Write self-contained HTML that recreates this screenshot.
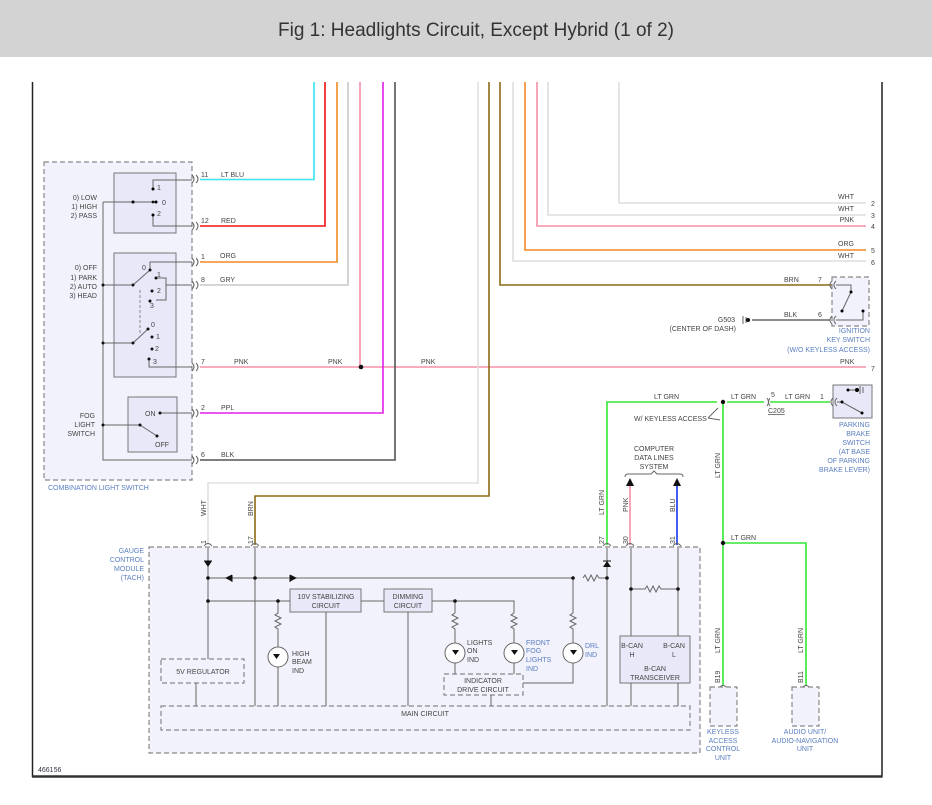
<!DOCTYPE html>
<html><head><meta charset="utf-8"><style>
html,body{margin:0;padding:0;background:#fff;}
svg{display:block;}
text{font-family:"Liberation Sans",sans-serif;}
.t{font-size:7px;fill:#444;}
.b{font-size:7px;fill:#5a7ec0;}
.w{fill:none;stroke-width:1.6;}
.k{fill:none;stroke:#666;stroke-width:1;}
.d{fill:#f2f2fc;stroke:#888;stroke-width:1.2;stroke-dasharray:5,3;}
.s{fill:#e8e8f8;stroke:#777;stroke-width:1;}
</style></head><body>
<svg width="932" height="805" viewBox="0 0 932 805" xmlns="http://www.w3.org/2000/svg">
<rect x="0" y="0" width="932" height="57" fill="#d3d3d3"/>
<text x="476" y="36" text-anchor="middle" style="font-size:19px;fill:#333">Fig 1: Headlights Circuit, Except Hybrid (1 of 2)</text>
<!-- frame -->
<line x1="32.5" y1="82" x2="32.5" y2="777" stroke="#222" stroke-width="1.5"/>
<line x1="882" y1="82" x2="882" y2="777" stroke="#222" stroke-width="1.5"/>
<line x1="32" y1="776.5" x2="882.5" y2="776.5" stroke="#333" stroke-width="2.5"/>
<text x="38" y="772" style="font-size:7px;fill:#334">466156</text>

<!-- combination light switch -->
<rect x="44" y="162" width="148" height="318" class="d"/>
<text x="48" y="490" class="b">COMBINATION LIGHT SWITCH</text>
<rect x="114" y="173" width="62" height="60" class="s"/>
<rect x="114" y="253" width="62" height="124" class="s"/>
<rect x="128" y="397" width="49" height="55" class="s"/>
<g class="t" text-anchor="end">
<text x="97" y="200">0) LOW</text><text x="97" y="209">1) HIGH</text><text x="97" y="218">2) PASS</text>
<text x="97" y="270">0) OFF</text><text x="97" y="280">1) PARK</text><text x="97" y="289">2) AUTO</text><text x="97" y="298">3) HEAD</text>
<text x="95" y="418">FOG</text><text x="95" y="427">LIGHT</text><text x="95" y="436">SWITCH</text>
</g>
<!-- bus -->
<path class="k" d="M103 202 V460 H192 M103 202 H153 M103 285 H133 M103 343 H133 M103 425 H140"/>
<!-- switch1 -->
<path class="k" d="M153 202 L156 202 M153 189 V180 H192 M153 215 V226 H192"/>
<circle cx="153" cy="189" r="1.5"/><circle cx="156" cy="202" r="1.5"/><circle cx="153" cy="215" r="1.5"/><circle cx="133" cy="202" r="1.5"/>
<g class="t"><text x="157" y="190">1</text><text x="162" y="205">0</text><text x="157" y="216">2</text></g>
<!-- switch2 -->
<path class="k" d="M133 285 L150 270 M150 270 V262 H192 M156 278 H166 V300 H156 M166 285 H192 M150 301 V303 M133 343 L148 329 M149 359 V367 H192"/>
<path d="M140 290 V335" stroke="#888" stroke-dasharray="3,2" fill="none"/>
<g fill="#111"><circle cx="133" cy="285" r="1.5"/><circle cx="150" cy="270" r="1.5"/><circle cx="156" cy="278" r="1.5"/><circle cx="152" cy="291" r="1.5"/><circle cx="150" cy="301" r="1.5"/><circle cx="133" cy="343" r="1.5"/><circle cx="148" cy="329" r="1.5"/><circle cx="152" cy="337" r="1.5"/><circle cx="152" cy="349" r="1.5"/><circle cx="149" cy="359" r="1.5"/><circle cx="103" cy="285" r="1.5"/><circle cx="103" cy="343" r="1.5"/><circle cx="103" cy="425" r="1.5"/><circle cx="133" cy="202" r="1.5"/></g>
<g class="t"><text x="142" y="270">0</text><text x="157" y="277">1</text><text x="157" y="293">2</text><text x="150" y="308">3</text><text x="151" y="327">0</text><text x="156" y="339">1</text><text x="155" y="351">2</text><text x="153" y="364">3</text></g>
<!-- fog switch -->
<path class="k" d="M140 425 L157 436 M160 413 H192"/>
<g fill="#111"><circle cx="140" cy="425" r="1.5"/><circle cx="157" cy="436" r="1.5"/><circle cx="160" cy="413" r="1.5"/><circle cx="153" cy="202" r="1.4"/></g>
<g class="t"><text x="145" y="416">ON</text><text x="155" y="447">OFF</text></g>
<!-- connectors left -->
<g class="k">
<path d="M192 175 q4 4 0 8 M196 175 q4 4 0 8 M192 222 q4 4 0 8 M196 222 q4 4 0 8 M192 258 q4 4 0 8 M196 258 q4 4 0 8 M192 281 q4 4 0 8 M196 281 q4 4 0 8 M192 363 q4 4 0 8 M196 363 q4 4 0 8 M192 409 q4 4 0 8 M196 409 q4 4 0 8 M192 456 q4 4 0 8 M196 456 q4 4 0 8"/>
</g>
<g class="t"><text x="201" y="177">11</text><text x="221" y="177">LT BLU</text><text x="201" y="223">12</text><text x="221" y="223">RED</text>
<text x="201" y="259">1</text><text x="220" y="258">ORG</text><text x="201" y="282">8</text><text x="220" y="282">GRY</text>
<text x="201" y="364">7</text><text x="234" y="364">PNK</text><text x="328" y="364">PNK</text><text x="421" y="364">PNK</text>
<text x="201" y="410">2</text><text x="221" y="410">PPL</text><text x="201" y="457">6</text><text x="221" y="457">BLK</text></g>

<!-- wires -->
<path class="w" stroke="#33e6ee" d="M200 179.5 H314 V82"/>
<path class="w" stroke="#ee1111" d="M200 226 H325 V82"/>
<path class="w" stroke="#f08a22" d="M200 262 H337 V82"/>
<path class="w" stroke="#c8c8c8" d="M200 285 H348 V82"/>
<path class="w" stroke="#f590a8" d="M200 367 H866 M360 367 V82"/>
<path class="w" stroke="#e020e6" d="M200 413 H383 V82"/>
<path class="w" stroke="#555" d="M200 460 H395 V82"/>
<path class="w" stroke="#e0e0e0" d="M208 545 V483 H478 V82"/>
<path class="w" stroke="#8b6a14" d="M255 545 V496 H489 V82"/>
<path class="w" stroke="#8b6a14" d="M500 82 V285 H832"/>
<path class="w" stroke="#dedede" d="M513 82 V261 H866"/>
<path class="w" stroke="#f08a22" d="M525 82 V250 H866"/>
<path class="w" stroke="#f590a8" d="M537 82 V226 H866"/>
<path class="w" stroke="#dedede" d="M548 82 V215 H866"/>
<path class="w" stroke="#dedede" d="M619 82 V203 H866"/>
<circle cx="361" cy="367" r="2.3" fill="#111"/>
<g class="t"><text x="854" y="199" text-anchor="end">WHT</text><text x="854" y="211" text-anchor="end">WHT</text><text x="854" y="222" text-anchor="end">PNK</text><text x="854" y="246" text-anchor="end">ORG</text><text x="854" y="258" text-anchor="end">WHT</text>
<text x="871" y="206">2</text><text x="871" y="218">3</text><text x="871" y="229">4</text><text x="871" y="253">5</text><text x="871" y="265">6</text>
<text x="784" y="282">BRN</text><text x="818" y="282">7</text><text x="784" y="317">BLK</text><text x="818" y="317">6</text>
<text x="840" y="364">PNK</text><text x="871" y="371">7</text></g>

<!-- ignition key switch -->
<rect x="832" y="277" width="37" height="49" class="d"/>
<path class="k" d="M832 281 q-4 4 0 8 M836 281 q-4 4 0 8 M832 316 q-4 4 0 8 M836 316 q-4 4 0 8 M836 285 H851 V292 M842 311 L851 292 M836 320 H863 V311"/>
<circle cx="851" cy="292" r="1.5"/><circle cx="842" cy="311" r="1.5"/><circle cx="863" cy="311" r="1.5"/>
<g class="b" text-anchor="end"><text x="870" y="333">IGNITION</text><text x="870" y="342">KEY SWITCH</text><text x="870" y="352">(W/O KEYLESS ACCESS)</text></g>
<path d="M752 320 H830" stroke="#666" stroke-width="1.6"/>
<path class="k" d="M743 316 V324 M746 317 V323"/><circle cx="748" cy="320" r="2" fill="#111"/>
<g class="t" text-anchor="end"><text x="735" y="322">G503</text><text x="736" y="331">(CENTER OF DASH)</text></g>

<!-- LT GRN network -->
<path class="w" stroke="#33e633" d="M607 545 V402 H717 M727 402 H764 M770 402 H830 M723 402 V685 M723 543 H806 V685"/>
<circle cx="723" cy="402" r="2.2" fill="#111"/><circle cx="723" cy="543" r="2.2" fill="#111"/>
<path class="k" d="M767 398 q3 4 0 8 M770 398 q-3 4 0 8"/>
<g class="t"><text x="654" y="399">LT GRN</text><text x="731" y="399">LT GRN</text><text x="771" y="397">5</text><text x="785" y="399">LT GRN</text><text x="820" y="399">1</text>
<text x="768" y="413" style="text-decoration:underline">C205</text><text x="634" y="421">W/ KEYLESS ACCESS</text><text x="731" y="540">LT GRN</text></g>
<path class="k" d="M708 418 L718 408 M708 418 L720 420"/>
<rect x="833" y="385" width="39" height="33" class="s"/>
<path class="k" d="M833 398 q-4 4 0 8 M837 398 q-4 4 0 8 M837 402 H842 L862 413 M848 390 H856 M860 386 V394 M863 387 V393"/>
<circle cx="842" cy="402" r="1.5"/><circle cx="862" cy="413" r="1.5"/><circle cx="848" cy="390" r="1.5"/><circle cx="857" cy="390" r="2"/>
<g class="b" text-anchor="end"><text x="870" y="427">PARKING</text><text x="870" y="436">BRAKE</text><text x="870" y="445">SWITCH</text><text x="870" y="454">(AT BASE</text><text x="870" y="463">OF PARKING</text><text x="870" y="472">BRAKE LEVER)</text></g>

<!-- data lines -->
<g class="t" text-anchor="middle"><text x="654" y="451">COMPUTER</text><text x="654" y="460">DATA LINES</text><text x="654" y="469">SYSTEM</text></g>
<path class="k" d="M625 477 q0-3 3-3 H651 l3-3 l3 3 H680 q3 0 3 3"/>
<path class="w" stroke="#f590a8" d="M630 485 V545"/><path class="w" stroke="#1133ee" d="M677 485 V545"/>
<path d="M626 486 L630 478 L634 486 Z M673 486 L677 478 L681 486 Z" fill="#111"/>

<!-- vertical labels -->
<g class="t">
<text transform="translate(206,516) rotate(-90)">WHT</text><text transform="translate(206,544) rotate(-90)">1</text>
<text transform="translate(253,516) rotate(-90)">BRN</text><text transform="translate(253,544) rotate(-90)">17</text>
<text transform="translate(604,515) rotate(-90)">LT GRN</text><text transform="translate(604,544) rotate(-90)">27</text>
<text transform="translate(628,512) rotate(-90)">PNK</text><text transform="translate(628,544) rotate(-90)">30</text>
<text transform="translate(675,512) rotate(-90)">BLU</text><text transform="translate(675,544) rotate(-90)">31</text>
<text transform="translate(720,478) rotate(-90)">LT GRN</text>
<text transform="translate(720,653) rotate(-90)">LT GRN</text><text transform="translate(720,683) rotate(-90)">B19</text>
<text transform="translate(803,653) rotate(-90)">LT GRN</text><text transform="translate(803,683) rotate(-90)">B11</text>
</g>

<!-- GCM -->
<rect x="149" y="547" width="551" height="206" class="d"/>
<g class="b" text-anchor="end"><text x="144" y="553">GAUGE</text><text x="144" y="562">CONTROL</text><text x="144" y="571">MODULE</text><text x="144" y="580">(TACH)</text></g>
<g class="k"><path d="M204 546 q4-5 8 0 M251 546 q4-5 8 0 M603 546 q4-5 8 0 M626 546 q4-5 8 0 M673 546 q4-5 8 0 M719 688 q4-5 8 0 M802 688 q4-5 8 0"/></g>
<rect x="710" y="687" width="27" height="39" class="d"/><rect x="792" y="687" width="27" height="39" class="d"/>
<g class="b" text-anchor="middle"><text x="723" y="734">KEYLESS</text><text x="723" y="743">ACCESS</text><text x="723" y="751">CONTROL</text><text x="723" y="760">UNIT</text>
<text x="805" y="734">AUDIO UNIT/</text><text x="805" y="743">AUDIO-NAVIGATION</text><text x="805" y="751">UNIT</text></g>

<rect x="161" y="706" width="529" height="24" class="d"/>
<text x="425" y="716" class="t" text-anchor="middle">MAIN CIRCUIT</text>
<rect x="161" y="659" width="83" height="24" class="d"/>
<text x="203" y="674" class="t" text-anchor="middle">5V REGULATOR</text>
<rect x="290" y="589" width="71" height="23" class="s"/>
<text x="326" y="599" class="t" text-anchor="middle">10V STABILIZING</text><text x="326" y="608" class="t" text-anchor="middle">CIRCUIT</text>
<rect x="384" y="589" width="48" height="23" class="s"/>
<text x="408" y="599" class="t" text-anchor="middle">DIMMING</text><text x="408" y="608" class="t" text-anchor="middle">CIRCUIT</text>
<rect x="444" y="674" width="79" height="21" class="d"/>
<text x="483" y="683" class="t" text-anchor="middle">INDICATOR</text><text x="483" y="692" class="t" text-anchor="middle">DRIVE CIRCUIT</text>
<rect x="620" y="636" width="70" height="47" class="s"/>
<g class="t" text-anchor="middle"><text x="632" y="648">B-CAN</text><text x="632" y="657">H</text><text x="674" y="648">B-CAN</text><text x="674" y="657">L</text><text x="655" y="671">B-CAN</text><text x="655" y="680">TRANSCEIVER</text></g>

<g class="k">
<path d="M208 548 V659 M208 578 H573 M583 578 l2-3 l3 6 l3-6 l3 6 l3-6 l2 3 H607 M208 601 H290 M361 601 H384 M432 601 H514 V613 M455 601 V613"/>
<path d="M255 548 V706 M196 683 V706 M326 612 V706 M408 612 V706 M491 695 V706"/>
<path d="M607 548 V706 M631 548 V636 M678 548 V636 M631 683 V706 M678 683 V706 M631 589 H645 l2-3 l3 6 l3-6 l3 6 l3-6 l2 3 H678"/>
<path d="M278 601 V613 l-3 2 l6 3 l-6 3 l6 3 l-6 3 l3 2 V647 M278 667 V706"/>
<path d="M455 613 l-3 2 l6 3 l-6 3 l6 3 l-6 3 l3 2 V643 M455 663 V674"/>
<path d="M514 613 l-3 2 l6 3 l-6 3 l6 3 l-6 3 l3 2 V643 M514 663 V674"/>
<path d="M573 578 V613 l-3 2 l6 3 l-6 3 l6 3 l-6 3 l3 2 V643 M573 663 V683 H523"/>
<circle cx="278" cy="657" r="10" fill="#fff"/><circle cx="455" cy="653" r="10" fill="#fff"/><circle cx="514" cy="653" r="10" fill="#fff"/><circle cx="573" cy="653" r="10" fill="#fff"/>
</g>
<g fill="#111">
<path d="M204 561 h8 l-4 6z M204 567 h8"/><path d="M225 578 l7 -3.5 v7z"/><path d="M297 578 l-7 -3.5 v7z"/><path d="M603 567 h8 l-4 -6z"/>
<path d="M273 654 h7 l-3.5 5z M452 650 h7 l-3.5 5z M511 650 h7 l-3.5 5z M570 650 h7 l-3.5 5z"/>
<circle cx="208" cy="578" r="1.8"/><circle cx="255" cy="578" r="1.8"/><circle cx="208" cy="601" r="1.8"/><circle cx="278" cy="601" r="1.8"/><circle cx="455" cy="601" r="1.8"/><circle cx="573" cy="578" r="1.8"/><circle cx="607" cy="578" r="1.8"/><circle cx="631" cy="589" r="1.8"/><circle cx="678" cy="589" r="1.8"/>
</g>
<path d="M232 575 v7 M290 575 v7 M204 561 h8 M603 561 h8" stroke="#111"/>
<g class="t"><text x="292" y="656">HIGH</text><text x="292" y="664">BEAM</text><text x="292" y="673">IND</text><text x="467" y="645">LIGHTS</text><text x="467" y="653">ON</text><text x="467" y="662">IND</text></g>
<g class="b"><text x="526" y="645">FRONT</text><text x="526" y="653">FOG</text><text x="526" y="662">LIGHTS</text><text x="526" y="671">IND</text><text x="585" y="648">DRL</text><text x="585" y="657">IND</text></g>
</svg>
</body></html>
